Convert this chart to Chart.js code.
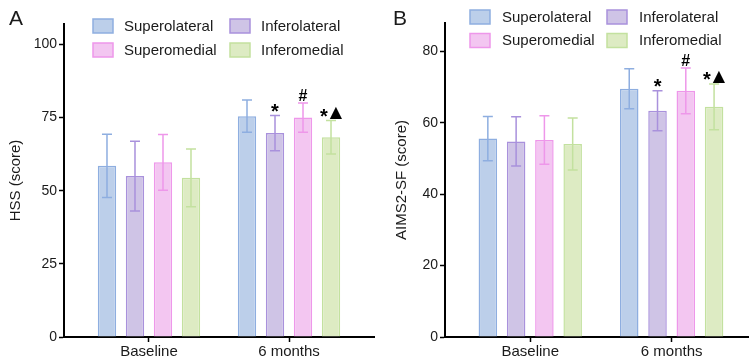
<!DOCTYPE html>
<html>
<head>
<meta charset="utf-8">
<script src="https://cdn.jsdelivr.net/npm/chart.js@4.4.1/dist/chart.umd.min.js"></script>
<style>
  body { margin: 0; background: #fff; }
  .panel { position: absolute; top: 0; }
</style>
</head>
<body>
<div class="panel" style="left:0"><canvas id="chartA" width="375" height="362"></canvas></div>
<div class="panel" style="left:375px"><canvas id="chartB" width="374" height="362"></canvas></div>
<script>
const timepoints = ['Baseline', '6 months'];
const regions = ['Superolateral', 'Inferolateral', 'Superomedial', 'Inferomedial'];
const regionFill = ['#bccfea', '#cfc4e6', '#f3c6f1', '#ddebc3'];
const regionLine = ['#8eaee0', '#a991dc', '#ee97ea', '#c3e19f'];

// rows = region, cols = timepoint
const hssMean = [[58.5, 75.5], [55.0, 69.7], [59.7, 75.0], [54.4, 68.3]];
const hssSD = [[10.8, 5.5], [11.9, 6.0], [9.5, 5.0], [9.9, 5.7]];
const aimsMean = [[55.6, 69.6], [54.8, 63.4], [55.2, 69.0], [54.1, 64.5]];
const aimsSD = [[6.2, 5.6], [6.9, 5.6], [6.8, 6.4], [7.3, 6.4]];
const sigMarks = [['', ''], ['', '*'], ['', '#'], ['', '*▲']];

const hssTicks = [0, 25, 50, 75, 100];
const aimsTicks = [0, 20, 40, 60, 80];

const FONT = "'Liberation Sans', Arial, sans-serif";
const INK = '#1a1a1a';

const errorBars = {
  id: 'errorBars',
  afterDatasetsDraw(chart) {
    const { ctx, scales: { y } } = chart;
    chart.data.datasets.forEach((ds, i) => {
      chart.getDatasetMeta(i).data.forEach((bar, j) => {
        const m = ds.data[j].y, e = ds.sd[j];
        const top = y.getPixelForValue(m + e), bot = y.getPixelForValue(m - e);
        ctx.save();
        ctx.strokeStyle = ds.borderColor;
        ctx.lineWidth = 1.5;
        ctx.beginPath();
        ctx.moveTo(bar.x, top); ctx.lineTo(bar.x, bot);
        ctx.moveTo(bar.x - 5, top); ctx.lineTo(bar.x + 5, top);
        ctx.moveTo(bar.x - 5, bot); ctx.lineTo(bar.x + 5, bot);
        ctx.stroke();
        // significance marks, each glyph centred vertically on one line
        const chars = Array.from(ds.marks[j] || '');
        if (chars.length) {
          const cy = top - 8, gap = 2;
          ctx.fillStyle = '#000';
          ctx.textBaseline = 'alphabetic';
          ctx.textAlign = 'left';
          const fonts = chars.map(c => c === '▲' ? "16px 'DejaVu Sans', sans-serif" : c === '*' ? `bold 20px ${FONT}` : `bold 16px ${FONT}`);
          const widths = chars.map((c, k) => { ctx.font = fonts[k]; return ctx.measureText(c).width; });
          let x = bar.x - (widths.reduce((a, b) => a + b, 0) + gap * (chars.length - 1)) / 2;
          chars.forEach((c, k) => {
            ctx.font = fonts[k];
            const mt = ctx.measureText(c);
            ctx.fillText(c, x, cy + (mt.actualBoundingBoxAscent - mt.actualBoundingBoxDescent) / 2);
            x += widths[k] + gap;
          });
        }
        ctx.restore();
      });
    });
  }
};

const boxLegend = {
  id: 'boxLegend',
  afterDraw(chart, args, o) {
    const ctx = chart.ctx;
    ctx.save();
    regions.forEach((name, i) => {
      const bx = o.x + (i % 2) * o.colGap, by = o.y + Math.floor(i / 2) * o.rowGap;
      ctx.fillStyle = regionFill[i];
      ctx.strokeStyle = regionLine[i];
      ctx.lineWidth = 1.5;
      ctx.fillRect(bx, by, 20, 14);
      ctx.strokeRect(bx, by, 20, 14);
      ctx.fillStyle = INK;
      ctx.font = `15px ${FONT}`;
      ctx.textBaseline = 'middle';
      ctx.fillText(name, bx + o.textGap, by + 7.5);
    });
    ctx.font = `21px ${FONT}`;
    ctx.textBaseline = 'alphabetic';
    ctx.fillText(o.letter, o.letterX, 25);
    ctx.restore();
  }
};

function makeChart(id, cfg) {
  const datasets = regions.map((name, i) => ({
    label: name,
    data: timepoints.map((t, j) => ({ x: j, y: cfg.mean[i][j] })),
    sd: cfg.sd[i],
    marks: sigMarks[i],
    backgroundColor: regionFill[i],
    borderColor: regionLine[i],
    borderWidth: 1.5,
    categoryPercentage: 0.8,
    barPercentage: 0.655,
  }));
  return new Chart(document.getElementById(id), {
    type: 'bar',
    data: { datasets },
    plugins: [errorBars, boxLegend],
    options: {
      responsive: false,
      animation: false,
      layout: { padding: { top: cfg.top, right: cfg.right, bottom: 0, left: 0 } },
      plugins: {
        legend: { display: false },
        tooltip: { enabled: false },
        boxLegend: cfg.legend,
      },
      scales: {
        x: {
          type: 'linear',
          min: cfg.xMin, max: cfg.xMax,
          offset: false,
          afterBuildTicks: s => { s.ticks = timepoints.map((t, j) => ({ value: j })); },
          afterFit: s => { s.height = cfg.xHeight; },
          ticks: { callback: v => timepoints[v], color: INK, font: { family: FONT, size: 15 }, padding: 1, maxRotation: 0, autoSkip: false },
          grid: { drawOnChartArea: false, offset: false, tickLength: 5, tickColor: '#000', tickWidth: 1.5 },
          border: { color: '#000', width: 2 },
        },
        y: {
          min: 0, max: cfg.yMax,
          afterBuildTicks: s => { s.ticks = cfg.yTicks.map(v => ({ value: v })); },
          afterFit: s => { s.width = cfg.yWidth; },
          ticks: { color: INK, font: { family: FONT, size: 14 }, padding: 2 },
          grid: { drawOnChartArea: false, tickLength: 5, tickColor: '#000', tickWidth: 1.5 },
          border: { color: '#000', width: 2 },
          title: { display: true, text: cfg.yTitle, color: INK, font: { family: FONT, size: 15 }, padding: { top: cfg.titlePad, bottom: 0 } },
        },
      },
    },
  });
}

makeChart('chartA', {
  mean: hssMean, sd: hssSD, yTicks: hssTicks, yMax: 107, yTitle: 'HSS (score)',
  top: 24, right: 1, yWidth: 64, xHeight: 25, titlePad: 7,
  xMin: -0.607, xMax: 1.607,
  legend: { x: 93, y: 19, colGap: 137, rowGap: 24, textGap: 31, letter: 'A', letterX: 9 },
});

makeChart('chartB', {
  mean: aimsMean, sd: aimsSD, yTicks: aimsTicks, yMax: 88, yTitle: 'AIMS2-SF (score)',
  top: 23, right: 0, yWidth: 70, xHeight: 25, titlePad: 18,
  xMin: -0.603, xMax: 1.547,
  legend: { x: 95, y: 10, colGap: 137, rowGap: 23.5, textGap: 32, letter: 'B', letterX: 18 },
});
</script>
</body>
</html>
